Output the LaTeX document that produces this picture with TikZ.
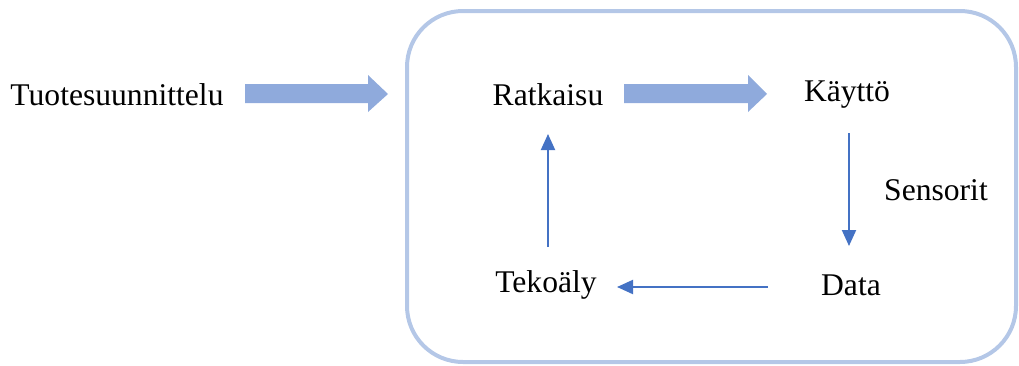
\documentclass[tikz,border=0pt]{standalone}
\usepackage{fontspec}
\setmainfont{Liberation Serif}
\usetikzlibrary{arrows.meta}
\definecolor{frameblue}{HTML}{B4C7E7}
\definecolor{fatblue}{HTML}{8FAADC}
\definecolor{thinblue}{HTML}{4472C4}
\begin{document}
\begin{tikzpicture}[x=0.5pt,y=-0.5pt,
  lbl/.style={font=\fontsize{15.8}{19}\selectfont, inner sep=0pt, anchor=center},
  fatarrow/.style={fill=fatblue, draw=none},
  thinarrow/.style={draw=thinblue, line width=1pt, -{Triangle[length=8pt,width=7pt]}}]
\useasboundingbox (0,0) rectangle (1019,365);
\draw[frameblue, line width=2pt, rounded corners=28pt] (407,11) rectangle (1016,362);
\node[lbl] (tuote) at (117,95) {Tuotesuunnittelu};
\node[lbl] (ratk) at (548,95) {Ratkaisu};
\node[lbl] (kaytto) at (847,95) {Käyttö};
\node[lbl] (sens) at (936,190) {Sensorit};
\node[lbl] (data) at (851,285) {Data};
\node[lbl] (teko) at (546,285) {Tekoäly};
% fat arrows
\fill[fatarrow] (245,84) -- (368,84) -- (368,75) -- (388,94) -- (368,112) -- (368,103) -- (245,103) -- cycle;
\fill[fatarrow] (624,84) -- (748,84) -- (748,75) -- (767,94) -- (748,112) -- (748,103) -- (624,103) -- cycle;
% thin arrows
\coordinate (dtop) at (849,133);
\coordinate (dbot) at (849,246);
\draw[thinarrow] (dtop) -- (dbot);
\coordinate (lr) at (768,287);
\coordinate (ll) at (617,287);
\draw[thinarrow] (lr) -- (ll);
\coordinate (ub) at (548,247);
\coordinate (ut) at (548,134);
\draw[thinarrow] (ub) -- (ut);
\end{tikzpicture}
\end{document}
